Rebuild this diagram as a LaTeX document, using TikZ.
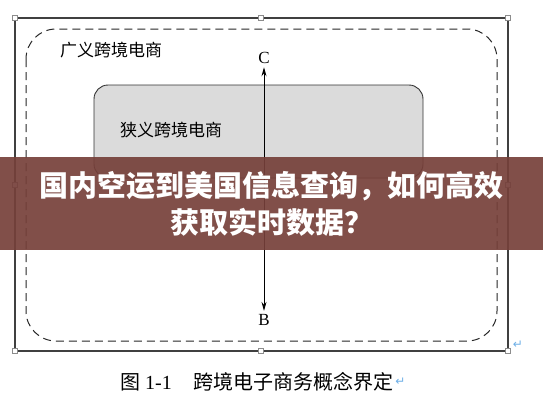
\documentclass[tikz,border=0pt]{standalone}
\usepackage{fontspec}
\setmainfont{Liberation Serif}
\newfontfamily\cjk{Noto Sans CJK SC}
\newfontfamily\symb{DejaVu Sans}
\usetikzlibrary{arrows.meta}
\definecolor{banner}{RGB}{118,64,58}
\definecolor{parmark}{RGB}{110,175,230}
\begin{document}
\begin{tikzpicture}[x=1pt,y=-1pt,
  handle/.style={draw=black!45,fill=white,line width=0.5pt,minimum size=5pt,inner sep=0pt},
  region/.style={font=\cjk\fontsize{17}{17}\selectfont,anchor=west,inner sep=0pt}]
\useasboundingbox (0,0) rectangle (543,408);
% outer frame with handles
\draw[line width=1.2pt,draw=black!75] (15,18) rectangle (508,351);
\foreach \x/\y in {15/18,261/18,508/18,15/185,508/185,15/351,261/351,508/351}
  \node[handle] at (\x,\y) {};
% broad range, dashed
\draw[line width=1pt,draw=black!85,dash pattern=on 8pt off 5pt,rounded corners=30pt] (26,29) rectangle (497,341);
\node[region] (broad) at (60,50) {广义跨境电商};
% narrow range, grey box
\draw[line width=0.9pt,draw=black!80,fill=black!14,rounded corners=14pt] (94,85) rectangle (423,178);
\node[region] (narrow) at (120,130) {狭义跨境电商};
% axis C -- B
\node[font=\fontsize{17}{17}\selectfont] (c) at (264,58) {C};
\node[font=\fontsize{17}{17}\selectfont] (b) at (264,320) {B};
\draw[line width=0.9pt,{Stealth[length=9pt,width=5pt]}-{Stealth[length=9pt,width=5pt]}] (c) -- (b);
% caption
\node[anchor=west,inner sep=0pt,font=\fontsize{20}{20}\selectfont] (cap) at (120,382) {{\cjk 图} 1-1\hspace{22pt}{\cjk 跨境电子商务概念界定}};
\node[anchor=west,inner sep=1pt,text=parmark,font=\symb\fontsize{12}{12}\selectfont] (mark1) at (cap.east) {↵};
\node[text=parmark,font=\symb\fontsize{12}{12}\selectfont] (mark2) at (518,345) {↵};
% banner overlay
\fill[banner,opacity=0.92] (0,157) rectangle (543,250);
\node[text=white,font=\cjk\bfseries\fontsize{29}{29}\selectfont] (title1) at (271.5,186) {国内空运到美国信息查询，如何高效};
\node[text=white,font=\cjk\bfseries\fontsize{29}{29}\selectfont] (title2) at (271.5,222) {获取实时数据？};
\end{tikzpicture}
\end{document}
